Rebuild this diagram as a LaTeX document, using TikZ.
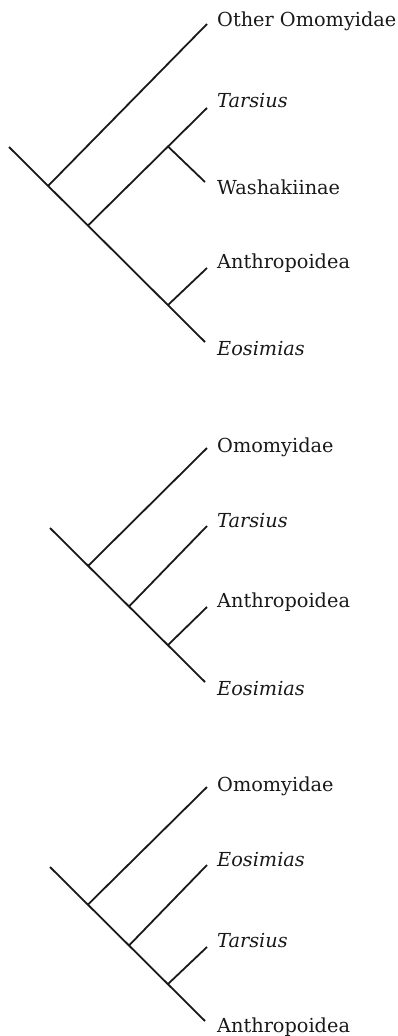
\documentclass[tikz,border=0pt]{standalone}
\usepackage{fontspec}
\setmainfont{DejaVu Serif}
\begin{document}
\begin{tikzpicture}[x=1pt,y=-1pt,
  br/.style={line width=1.8pt,black!90},
  lab/.style={anchor=base west,inner sep=0pt,font=\fontsize{19.3}{22}\selectfont,text=black!90}]
\useasboundingbox (0,0) rectangle (397,1036);
% ---------- tree 1 ----------
\coordinate (r1) at (9,147);
\coordinate (a1) at (48,186);
\coordinate (b1) at (88,225.5);
\coordinate (c1) at (168,146.5);
\coordinate (d1) at (168,305);
\coordinate (t1a) at (207,24);
\coordinate (t1b) at (207,108);
\coordinate (t1c) at (205,182);
\coordinate (t1d) at (207,268);
\coordinate (t1e) at (205,342);
\node[lab] (l1a) at (217,27) {Other Omomyidae};
\node[lab] (l1b) at (217,107) {\itshape Tarsius};
\node[lab] (l1c) at (217,194) {Washakiinae};
\node[lab] (l1d) at (217,268) {Anthropoidea};
\node[lab] (l1e) at (217,355) {\itshape Eosimias};
\draw[br] (r1) -- (t1e);
\draw[br] (a1) -- (t1a);
\draw[br] (b1) -- (t1b);
\draw[br] (c1) -- (t1c);
\draw[br] (d1) -- (t1d);
% ---------- tree 2 ----------
\coordinate (r2) at (50,528);
\coordinate (a2) at (88,566);
\coordinate (b2) at (129,606.5);
\coordinate (d2) at (168,645);
\coordinate (t2a) at (207,448);
\coordinate (t2b) at (207,526);
\coordinate (t2d) at (207,607);
\coordinate (t2e) at (205,682);
\node[lab] (l2a) at (217,452) {Omomyidae};
\node[lab] (l2b) at (217,527) {\itshape Tarsius};
\node[lab] (l2d) at (217,607) {Anthropoidea};
\node[lab] (l2e) at (217,695) {\itshape Eosimias};
\draw[br] (r2) -- (t2e);
\draw[br] (a2) -- (t2a);
\draw[br] (b2) -- (t2b);
\draw[br] (d2) -- (t2d);
% ---------- tree 3 ----------
\coordinate (r3) at (50,867);
\coordinate (a3) at (88,904.5);
\coordinate (b3) at (129,945.5);
\coordinate (d3) at (168,984);
\coordinate (t3a) at (207,787);
\coordinate (t3b) at (207,865);
\coordinate (t3d) at (207,947);
\coordinate (t3e) at (205,1021);
\node[lab] (l3a) at (217,791) {Omomyidae};
\node[lab] (l3b) at (217,866) {\itshape Eosimias};
\node[lab] (l3d) at (217,947) {\itshape Tarsius};
\node[lab] (l3e) at (217,1032) {Anthropoidea};
\draw[br] (r3) -- (t3e);
\draw[br] (a3) -- (t3a);
\draw[br] (b3) -- (t3b);
\draw[br] (d3) -- (t3d);
\end{tikzpicture}
\end{document}
